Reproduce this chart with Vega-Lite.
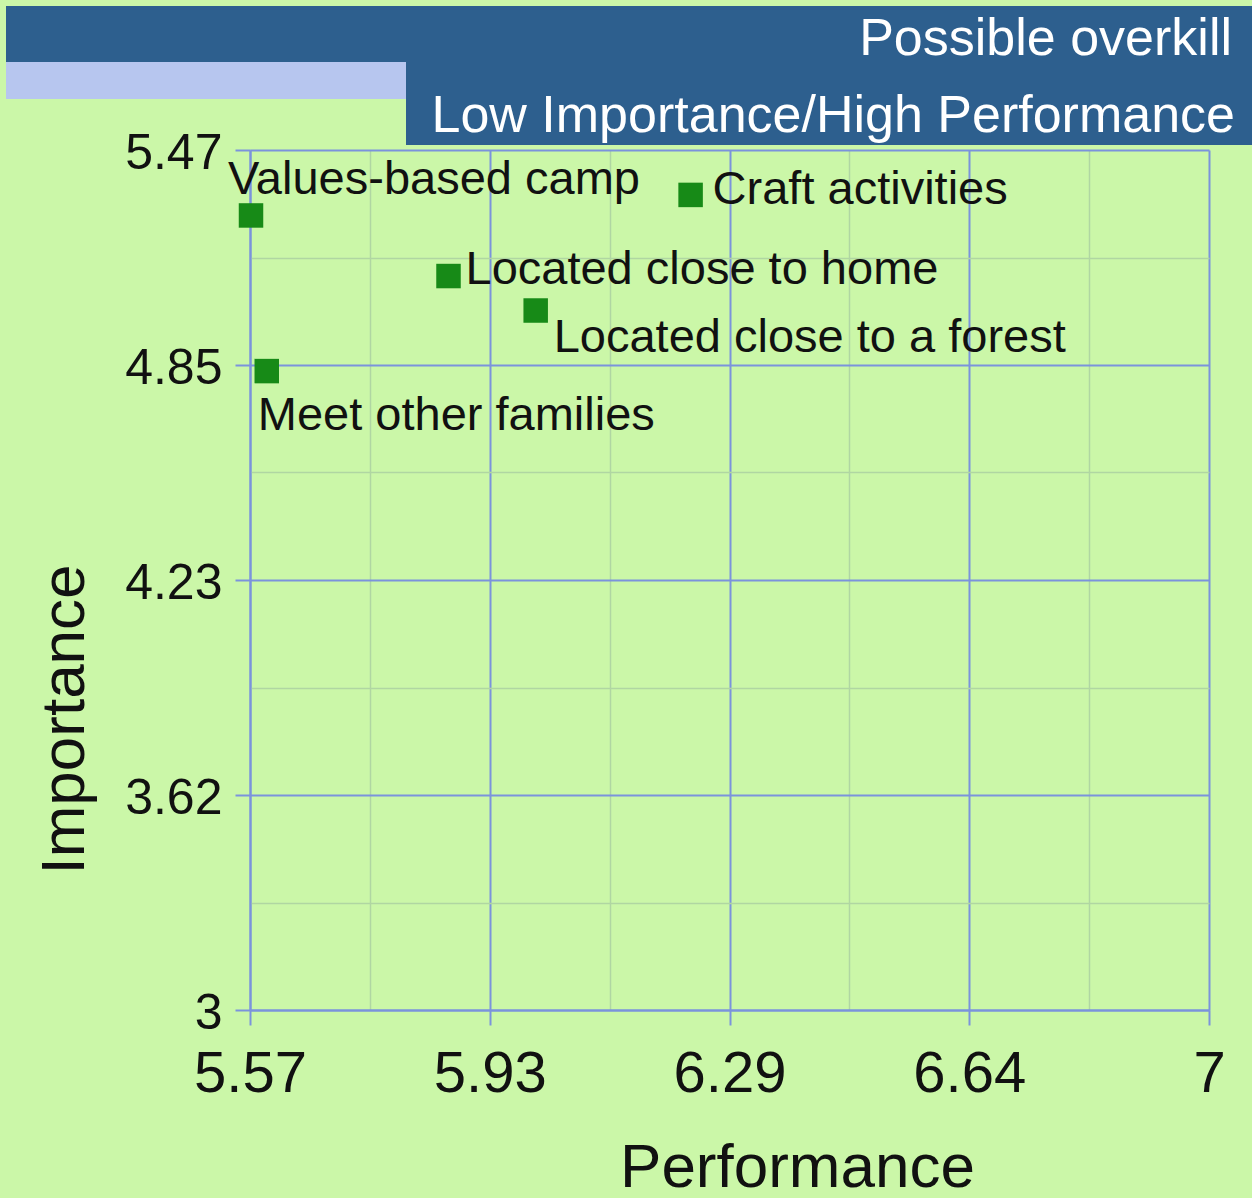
{
  "$schema": "https://vega.github.io/schema/vega-lite/v6.json",
  "background": "#cbf7a8",
  "padding": {"left": 6, "top": 6, "right": 0, "bottom": 0},
  "config": {"view": {"stroke": null}, "font": "Liberation Sans"},
  "spacing": 0,
  "bounds": "flush",
  "vconcat": [
    {
      "width": 1246, "height": 56,
      "data": {"values": [{"label": "Possible overkill"}]},
      "mark": {"type": "text", "x": "width", "y": "height", "align": "right", "baseline": "alphabetic", "dx": -20, "dy": -7, "font": "Liberation Sans", "fontSize": 52, "color": "#ffffff"},
      "encoding": {"text": {"field": "label"}},
      "view": {"fill": "#2d5f8e", "stroke": null}
    },
    {
      "spacing": 0,
      "bounds": "flush",
      "hconcat": [
        {
          "width": 400, "height": 37,
          "data": {"values": [{}]},
          "mark": {"type": "text", "text": ""},
          "encoding": {},
          "view": {"fill": "#b7c6ef", "stroke": null}
        },
        {
          "width": 846, "height": 83,
          "data": {"values": [{"label": "Low Importance/High Performance"}]},
          "mark": {"type": "text", "x": "width", "y": "height", "align": "right", "baseline": "alphabetic", "dx": -17, "dy": -13, "font": "Liberation Sans", "fontSize": 52, "color": "#ffffff"},
          "encoding": {"text": {"field": "label"}},
          "view": {"fill": "#2d5f8e", "stroke": null}
        }
      ]
    },
    {
      "width": 1, "height": 88,
      "data": {"values": [{}]},
      "mark": {"type": "text", "text": ""},
      "encoding": {}
    },
    {
      "spacing": 0,
      "bounds": "flush",
      "hconcat": [
        {
          "width": 244, "height": 1,
          "data": {"values": [{}]},
          "mark": {"type": "text", "text": ""},
          "encoding": {}
        },
        {
          "width": 959, "height": 860,
          "data": {"values": [
            {"item": "Values-based camp", "performance": 5.5715, "importance": 5.282},
            {"item": "Craft activities", "performance": 6.227, "importance": 5.341},
            {"item": "Located close to home", "performance": 5.866, "importance": 5.108},
            {"item": "Located close to a forest", "performance": 5.996, "importance": 5.009},
            {"item": "Meet other families", "performance": 5.595, "importance": 4.835}
          ]},
          "encoding": {
            "x": {
              "field": "performance", "type": "quantitative",
              "scale": {"domain": [5.57, 7], "nice": false, "zero": false},
              "axis": {
                "title": "Performance",
                "values": [5.57, 5.74875, 5.9275, 6.10625, 6.285, 6.46375, 6.6425, 6.82125, 7],
                "labelExpr": "datum.value == 7 ? '7' : (indexof([5.57, 5.9275, 6.285, 6.6425], datum.value) >= 0 ? format(datum.value + 0.0001, '.2f') : '')",
                "grid": true,
                "gridColor": {"condition": {"test": "indexof([5.57, 5.9275, 6.285, 6.6425, 7], datum.value) >= 0", "value": "#7b93dc"}, "value": "#b0d6a2"},
                "gridWidth": {"condition": {"test": "indexof([5.57, 5.9275, 6.285, 6.6425, 7], datum.value) >= 0", "value": 2}, "value": 1.5},
                "tickColor": {"condition": {"test": "indexof([5.57, 5.9275, 6.285, 6.6425, 7], datum.value) >= 0", "value": "#7b93dc"}, "value": "transparent"},
                "tickSize": 15, "tickWidth": 2,
                "domainColor": "#7b93dc", "domainWidth": 2,
                "labelFont": "Liberation Sans", "labelFontSize": 58, "labelColor": "#111111",
                "labelPadding": 20, "labelFlush": false, "labelOverlap": false,
                "titleFont": "Liberation Sans", "titleFontSize": 62, "titleFontWeight": "normal", "titleColor": "#111111",
                "titleX": 547, "titleY": 176, "titleAlign": "center", "titleBaseline": "alphabetic"
              }
            },
            "y": {
              "field": "importance", "type": "quantitative",
              "scale": {"domain": [3, 5.47], "nice": false, "zero": false},
              "axis": {
                "title": "Importance",
                "values": [3, 3.30875, 3.6175, 3.92625, 4.235, 4.54375, 4.8525, 5.16125, 5.47],
                "labelExpr": "datum.value == 3 ? '3' : (indexof([3.6175, 4.235, 4.8525, 5.47], datum.value) >= 0 ? format(datum.value - 0.0001, '.2f') : '')",
                "grid": true,
                "gridColor": {"condition": {"test": "indexof([3, 3.6175, 4.235, 4.8525, 5.47], datum.value) >= 0", "value": "#7b93dc"}, "value": "#b0d6a2"},
                "gridWidth": {"condition": {"test": "indexof([3, 3.6175, 4.235, 4.8525, 5.47], datum.value) >= 0", "value": 2}, "value": 1.5},
                "tickColor": {"condition": {"test": "indexof([3, 3.6175, 4.235, 4.8525, 5.47], datum.value) >= 0", "value": "#7b93dc"}, "value": "transparent"},
                "tickSize": 15, "tickWidth": 2,
                "domainColor": "#7b93dc", "domainWidth": 2,
                "labelFont": "Liberation Sans", "labelFontSize": 50, "labelColor": "#111111",
                "labelPadding": 13, "labelFlush": false, "labelOverlap": false, "labelOffset": 3,
                "titleFont": "Liberation Sans", "titleFontSize": 62, "titleFontWeight": "normal", "titleColor": "#111111",
                "titleX": -167, "titleY": 569, "titleAngle": -90, "titleAlign": "center", "titleBaseline": "alphabetic"
              }
            }
          },
          "layer": [
            {
              "mark": {"type": "point", "shape": "square", "filled": true, "size": 600, "color": "#178a17", "opacity": 1}
            },
            {
              "transform": [{"filter": "datum.item == 'Values-based camp'"}],
              "mark": {"type": "text", "align": "left", "baseline": "alphabetic", "dx": -23, "dy": -21, "font": "Liberation Sans", "fontSize": 47, "color": "#111111"},
              "encoding": {"text": {"field": "item"}}
            },
            {
              "transform": [{"filter": "datum.item == 'Craft activities'"}],
              "mark": {"type": "text", "align": "left", "baseline": "alphabetic", "dx": 22, "dy": 9, "font": "Liberation Sans", "fontSize": 47, "color": "#111111"},
              "encoding": {"text": {"field": "item"}}
            },
            {
              "transform": [{"filter": "datum.item == 'Located close to home'"}],
              "mark": {"type": "text", "align": "left", "baseline": "alphabetic", "dx": 17, "dy": 8, "font": "Liberation Sans", "fontSize": 47, "color": "#111111"},
              "encoding": {"text": {"field": "item"}}
            },
            {
              "transform": [{"filter": "datum.item == 'Located close to a forest'"}],
              "mark": {"type": "text", "align": "left", "baseline": "alphabetic", "dx": 18, "dy": 41, "font": "Liberation Sans", "fontSize": 47, "color": "#111111"},
              "encoding": {"text": {"field": "item"}}
            },
            {
              "transform": [{"filter": "datum.item == 'Meet other families'"}],
              "mark": {"type": "text", "align": "left", "baseline": "alphabetic", "dx": -9, "dy": 59, "font": "Liberation Sans", "fontSize": 47, "color": "#111111"},
              "encoding": {"text": {"field": "item"}}
            }
          ]
        }
      ]
    }
  ]
}
